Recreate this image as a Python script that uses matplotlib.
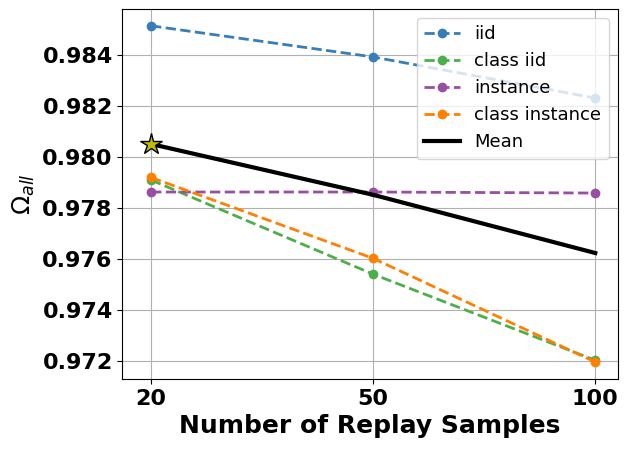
import numpy as np
import matplotlib
matplotlib.use('Agg')
import matplotlib.pyplot as plt

samples = ['20', '50', '100']
iid = [0.98514, 0.98392, 0.98231]
class_iid = [0.97910, 0.97541, 0.97204]
instance = [0.97863, 0.97863, 0.97859]
class_instance = [0.97920, 0.97603, 0.97197]
mean = [0.98051, 0.97852, 0.97624]

x = np.arange(len(samples))

fig, ax = plt.subplots(figsize=(6.28, 4.51), dpi=100)
ax.plot(x, iid, '--o', color='#377eb8', lw=2, label='iid')
ax.plot(x, class_iid, '--o', color='#4daf4a', lw=2, label='class iid')
ax.plot(x, instance, '--o', color='#984ea3', lw=2, label='instance')
ax.plot(x, class_instance, '--o', color='#ff7f00', lw=2, label='class instance')
ax.plot(x, mean, '-', color='black', lw=3, label='Mean')
ax.plot(x[0], mean[0], '*', color='y', markeredgecolor='black', markersize=16)

ax.set_xticks(x)
ax.set_xticklabels(samples)
ax.set_xlim(-0.129, 2.101)
ax.set_yticks([0.972, 0.974, 0.976, 0.978, 0.980, 0.982, 0.984])
ax.set_yticklabels(['%.3f' % v for v in ax.get_yticks()])
for lab in ax.get_xticklabels() + ax.get_yticklabels():
    lab.set_fontsize(16)
    lab.set_fontweight('bold')
ax.set_xlabel('Number of Replay Samples', fontsize=18, fontweight='bold')
ax.set_ylabel(r'$\Omega_{all}$', fontsize=18)
ax.grid(True)
ax.legend(fontsize=13, loc='upper right')

plt.subplots_adjust(left=0.195, right=0.9836, top=0.980, bottom=0.160)
plt.savefig('out.png')
